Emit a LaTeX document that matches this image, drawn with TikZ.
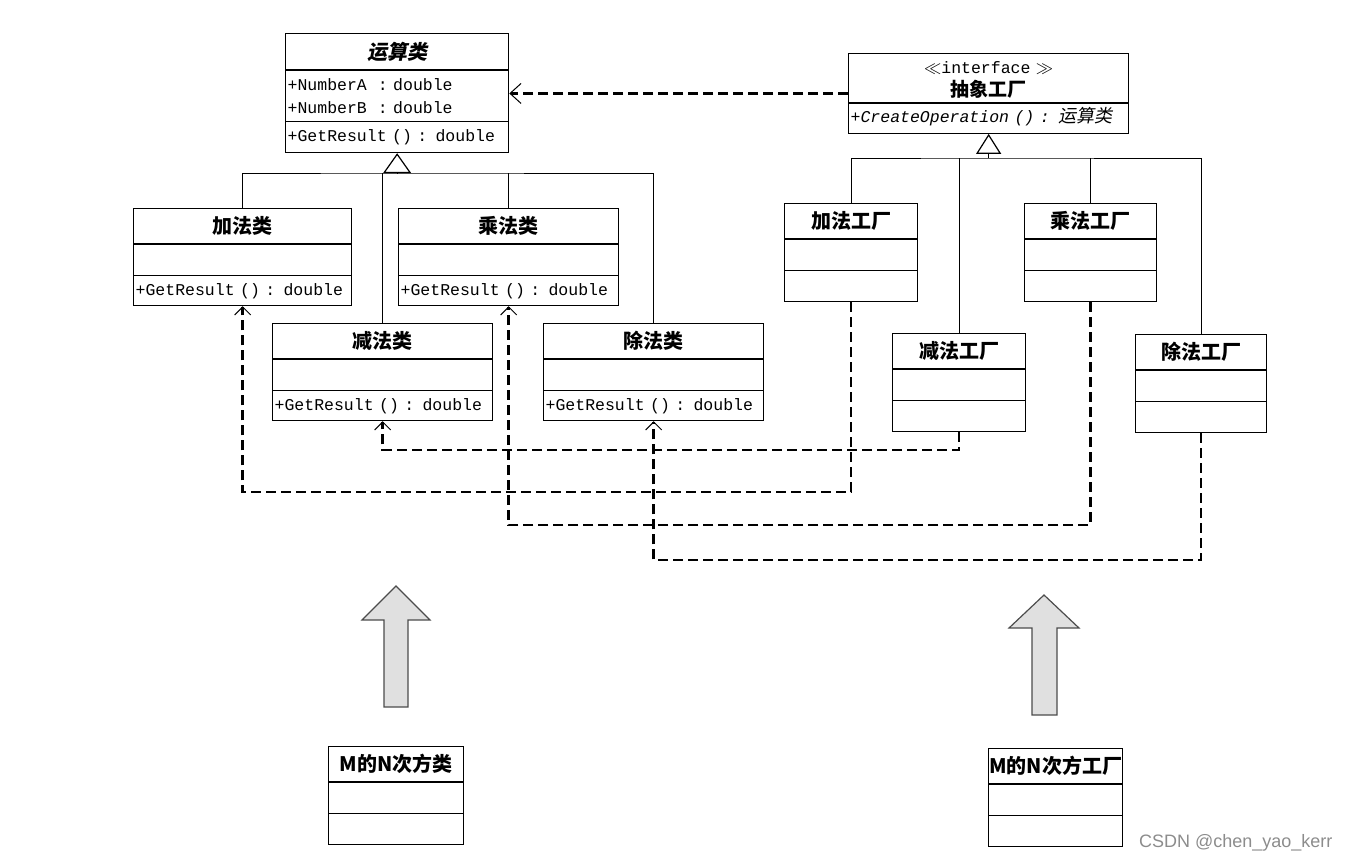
\documentclass[tikz,border=0pt]{standalone}
\usepackage{fontspec}
\setmainfont{Liberation Serif}
\setmonofont{Liberation Mono}
\newfontfamily\cjk{Noto Sans CJK SC}
\newfontfamily\cjkit{Noto Sans CJK SC}[FakeSlant=0.2]
\newfontfamily\marksans{Liberation Sans}
\usetikzlibrary{shapes.multipart,arrows.meta}

% class box parts
\newcommand\ctitle[1]{\rule[-10pt]{0pt}{34pt}\makebox[\linewidth]{\cjk\bfseries\fontsize{20}{22}\selectfont #1}}
\newcommand\crow{\rule{0pt}{30pt}}
\newcommand\cmeth[1]{\rule[-9.5pt]{0pt}{29pt}#1}

\tikzset{
  cls/.style={rectangle split, rectangle split parts=3, draw, line width=1.3pt,
    inner xsep=2pt, inner ysep=0pt, text width=#1, align=left, anchor=north west,
    font=\ttfamily\fontsize{16.5}{23}\selectfont},
  gen/.style={line width=0.9pt},
  dep/.style={line width=2.6pt, dash pattern=on 10pt off 5pt,
    -{Straight Barb[length=8pt,width=16pt,line width=1pt]}},
  bigarrow/.style={draw=black!70, fill=black!12, line width=1.2pt, line join=miter}
}

\begin{document}
\begin{tikzpicture}[x=1pt,y=-1pt]
\useasboundingbox (0,0) rectangle (1349,861);

% products
\node[cls=219pt] (op) at (285,33) {\rule[-10pt]{0pt}{35pt}\makebox[\linewidth]{\cjkit\bfseries\fontsize{20}{22}\selectfont 运算类}
  \nodepart{two}\rule{0pt}{20pt}+NumberA~~:~double\\+NumberB~~:~double\rule[-7pt]{0pt}{7pt}
  \nodepart{three}\rule[-10pt]{0pt}{30pt}+GetResult () : double};

\node[cls=214pt] (jia) at (133,208) {\ctitle{加法类}\nodepart{two}\crow\nodepart{three}\cmeth{+GetResult () : double}};
\node[cls=216pt] (cheng) at (398,208) {\ctitle{乘法类}\nodepart{two}\crow\nodepart{three}\cmeth{+GetResult () : double}};
\node[cls=216pt] (jian) at (272,323) {\ctitle{减法类}\nodepart{two}\crow\nodepart{three}\cmeth{+GetResult () : double}};
\node[cls=216pt] (chu) at (543,323) {\ctitle{除法类}\nodepart{two}\crow\nodepart{three}\cmeth{+GetResult () : double}};

% factories
\node[cls=276pt, rectangle split parts=2] (fact) at (848,53) {\rule{0pt}{19pt}\makebox[\linewidth]{$\ll$interface $\gg$}\\
  \makebox[\linewidth]{\cjk\bfseries\fontsize{19}{22}\selectfont 抽象工厂}\rule[-6pt]{0pt}{6pt}
  \nodepart{two}\rule[-10pt]{0pt}{29pt}\itshape +CreateOperation () : {\cjkit\fontsize{18}{22}\selectfont 运算类}};

\node[cls=129pt] (jiaf) at (784,203) {\ctitle{加法工厂}\nodepart{two}\crow\nodepart{three}\crow};
\node[cls=128pt] (chengf) at (1024,203) {\ctitle{乘法工厂}\nodepart{two}\crow\nodepart{three}\crow};
\node[cls=129pt] (jianf) at (892,333) {\ctitle{减法工厂}\nodepart{two}\crow\nodepart{three}\crow};
\node[cls=127pt] (chuf) at (1135,334) {\ctitle{除法工厂}\nodepart{two}\crow\nodepart{three}\crow};

% extension
\node[cls=131pt] (mnc) at (328,746) {\ctitle{M的N次方类}\nodepart{two}\crow\nodepart{three}\crow};
\node[cls=130pt] (mnf) at (988,748) {\ctitle{M的N次方工厂}\nodepart{two}\crow\nodepart{three}\crow};

% inheritance
\coordinate (opjoin) at (op.south |- 0,173);
\coordinate (factjoin) at (fact.south |- 0,158);
\draw[gen,-{Triangle[open,length=20pt,width=28pt,line width=1.2pt]}] (opjoin) -- (op.south);
\draw[gen] (jia.north) |- (opjoin) -| (chu.north);
\draw[gen] (jian.north) -- (jian.north |- opjoin);
\draw[gen] (cheng.north) -- (cheng.north |- opjoin);
\draw[gen,-{Triangle[open,length=20pt,width=25pt,line width=1.2pt]}] (factjoin) -- (fact.south);
\draw[gen] (jiaf.north) |- (factjoin) -| (chuf.north);
\draw[gen] (jianf.north) -- (jianf.north |- factjoin);
\draw[gen] (chengf.north) -- (chengf.north |- factjoin);

% dependencies
\coordinate (lanejian) at (0,450);
\coordinate (lanejia) at (0,492);
\coordinate (lanecheng) at (0,525);
\coordinate (lanechu) at (0,560);
\draw[dep,-{Straight Barb[length=11pt,width=20pt,line width=1pt]}] (fact.west) -- (op.east |- fact.west);
\draw[dep] (jiaf.south) |- (jia.south |- lanejia) -- (jia.south);
\draw[dep] (jianf.south) |- (jian.south |- lanejian) -- (jian.south);
\draw[dep] (chengf.south) |- (cheng.south |- lanecheng) -- (cheng.south);
\draw[dep] (chuf.south) |- (chu.south |- lanechu) -- (chu.south);

% big arrows
\draw[bigarrow] (384,707) -- (384,620) -- (362,620) -- (396,586) -- (430,620) -- (408,620) -- (408,707) -- cycle;
\draw[bigarrow] (1032,715) -- (1032,628) -- (1009,628) -- (1044,595) -- (1079,628) -- (1057,628) -- (1057,715) -- cycle;

\node[font=\marksans\fontsize{18}{20}\selectfont, text=black!45, anchor=east] (mark) at (1336,843) {CSDN @chen\_yao\_kerr};
\end{tikzpicture}
\end{document}
